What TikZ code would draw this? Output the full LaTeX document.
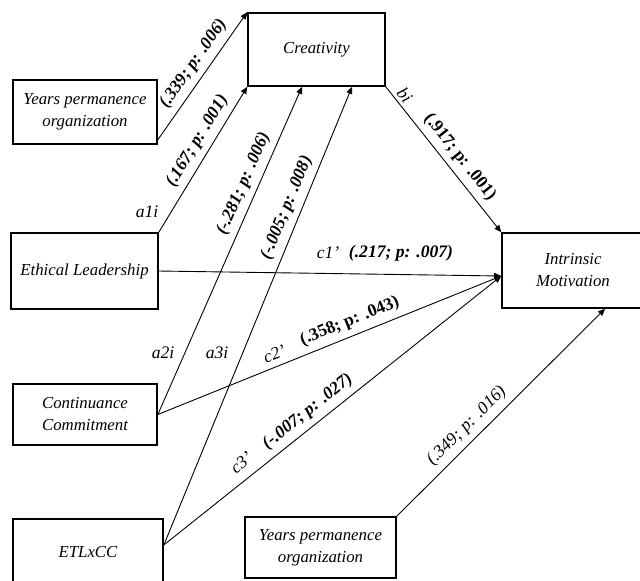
\documentclass[tikz,border=0pt]{standalone}
\usepackage{fontspec}
\setmainfont{Liberation Serif}
\usetikzlibrary{arrows.meta,calc}
\begin{document}
\begin{tikzpicture}[x=0.5pt,y=-0.5pt,
  box/.style={draw,line width=0.8pt,align=center,inner sep=0pt,
    font=\fontsize{8.4}{11}\selectfont\itshape},
  conn/.style={line width=0.45pt,-{Triangle[length=3.5pt,width=3pt]}},
  lbl/.style={sloped,above,inner sep=3pt,font=\fontsize{8.8}{11}\selectfont\bfseries\itshape},
  lblb/.style={sloped,above,inner sep=3pt,font=\fontsize{8.8}{11}\selectfont\bfseries},
  lbli/.style={sloped,above,inner sep=3pt,font=\fontsize{8.8}{11}\selectfont\itshape},
  tag/.style={inner sep=0pt,font=\fontsize{8.8}{11}\selectfont\itshape},
  btag/.style={inner sep=0pt,font=\fontsize{8.8}{11}\selectfont\bfseries\itshape}]
\useasboundingbox (0,0) rectangle (640,580);
\clip (0,0) rectangle (640,580);

\node[box,minimum width=68.5pt,minimum height=36.5pt] (cre) at (316.5,49.5) {Creativity};
\node[box,minimum width=72pt,minimum height=32pt] (yp1) at (85,112) {Years permanence\\organization};
\node[box,minimum width=73.5pt,minimum height=38pt] (el) at (84.5,271) {Ethical Leadership};
\node[box,minimum width=72pt,minimum height=30.5pt] (cc) at (85,414.5) {Continuance\\Commitment};
\node[box,minimum width=75pt,minimum height=33pt] (etl) at (88,552) {ETLxCC};
\node[box,minimum width=75.5pt,minimum height=30.5pt] (yp2) at (320.5,547.5) {Years permanence\\organization};
\node[box,minimum width=71pt,minimum height=37.5pt] (im) at (573,270.5) {Intrinsic\\Motivation};

\coordinate (imin) at ([yshift=-2.75pt]im.west);
\coordinate (etlout) at ([yshift=3.5pt]etl.east);

\draw[conn] ([yshift=2.5pt]yp1.south east) -- (cre.north west)
  node[lbl,pos=0.53] (l1) {(.339; p: .006)};
\draw[conn] (el.north east) -- (cre.south west)
  node[lbl,pos=0.574] (l2) {(.167; p: .001)};
\draw[conn] (cc.east) -- ([xshift=-7.25pt]cre.south)
  node[lbl,pos=0.686] (l3) {(-.281; p: .006)};
\draw[conn] (etlout) -- ([xshift=17.75pt]cre.south)
  node[lbl,pos=0.724] (l4) {(-.005; p: .008)};
\draw[conn] (el.east) -- (imin);
\draw[conn] (cc.east) -- (imin)
  node[lblb,pos=0.575] (l6) {(.358; p: .043)}
  node[lbli,pos=0.353] (c2) {c2’};
\draw[conn] (etlout) -- (imin)
  node[lbl,pos=0.407] (l7) {\mdseries c3’\quad\bfseries(-.007; p: .027)};
\draw[conn] (cre.south east) -- (im.north west)
  node[lbli,pos=0.10,inner sep=1.5pt] (bi) {bi}
  node[lblb,pos=0.544] (l8) {(.917; p: .001)};
\draw[conn] (yp2.north east) -- ([xshift=16pt]im.south)
  node[lbli,pos=0.385] (l9) {(.349; p: .016)};

\node[tag] (a1) at (147,212) {a1i};
\node[tag] (a2) at (163,353) {a2i};
\node[tag] (a3) at (217,353) {a3i};
\node[tag] (c1) at (328,253) {c1’};
\node[btag] (l5) at (401,253) {(.217; p: .007)};
\end{tikzpicture}
\end{document}
